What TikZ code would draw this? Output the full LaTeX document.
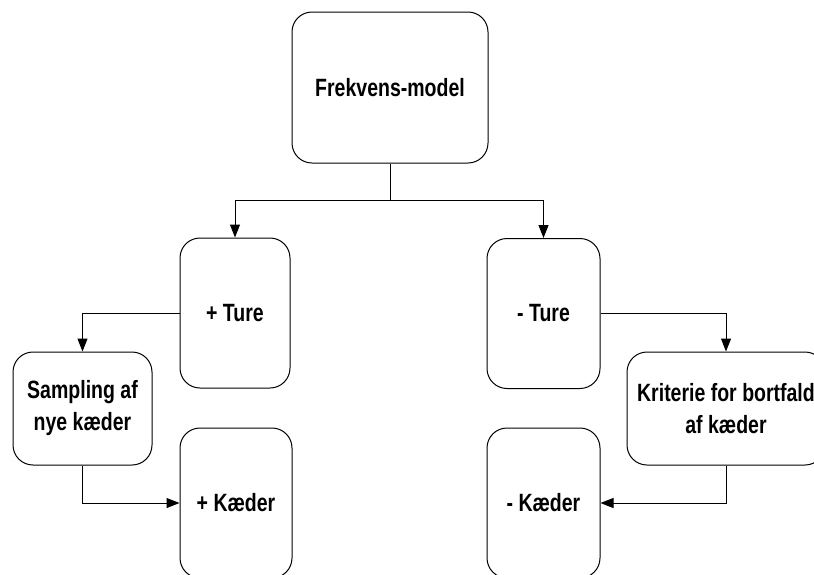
\documentclass[tikz,border=0pt]{standalone}
\usepackage{fontspec}
\setmainfont{Liberation Sans}[FakeStretch=0.78]
\usetikzlibrary{arrows.meta}
\begin{document}
\begin{tikzpicture}[x=1pt,y=-1pt,
  box/.style={draw=black, line width=1pt, rounded corners=20pt,
    align=center, inner sep=0pt,
    font=\fontsize{25}{32}\selectfont\bfseries},
  arr/.style={draw=black, line width=1pt,
    -{Triangle[length=13pt,width=10pt]}}]
\useasboundingbox (0,0) rectangle (814,574);
\clip (0,0) rectangle (814,574);

% model at the top
\node[box, minimum width=196pt, minimum height=151pt] (model) at (390,87.5) {Frekvens-model};

% trips added / removed
\node[box, minimum width=110pt, minimum height=150pt] (pT) at (235,313) {+ Ture};
\node[box, minimum width=113pt, minimum height=150pt] (mT) at (543.5,313.5) {- Ture};

% processing steps
\node[box, minimum width=139pt, minimum height=113pt] (samp) at (82.5,408.5) {Sampling af\\nye kæder};
\node[box, minimum width=198pt, minimum height=113pt] (krit) at (726,408.5) {Kriterie for bortfald\\af kæder};

% chains added / removed
\node[box, minimum width=112pt, minimum height=150pt] (pK) at (236,503) {+ Kæder};
\node[box, minimum width=113pt, minimum height=150pt] (mK) at (543.5,503) {- Kæder};

% connectors
\coordinate (split) at (390,200);
\draw[line width=1pt] (model.south) -- (split);
\draw[arr] (split) -| (pT.north);
\draw[arr] (split) -| (mT.north);
\draw[arr] (pT.west) -| (samp.north);
\draw[arr] (samp.south) |- (pK.west);
\draw[arr] (mT.east) -| (krit.north);
\draw[arr] (krit.south) |- (mK.east);
\end{tikzpicture}
\end{document}
